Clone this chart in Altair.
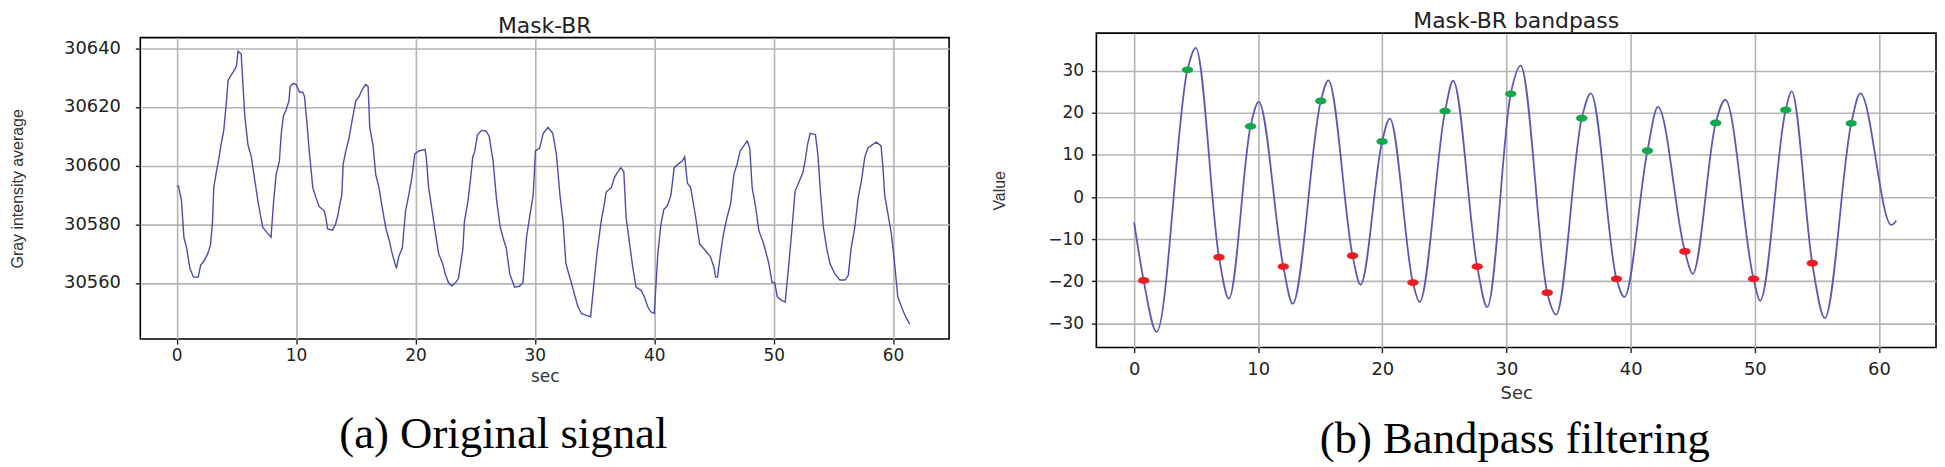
import altair as alt
import pandas as pd

# ---- (a) original signal: time (s) and gray intensity average ----
raw_t = [0, 0.15, 0.4, 0.6, 0.83, 1.1, 1.4, 1.8, 2.0, 2.36, 2.6, 2.83, 3.0, 3.1, 3.33, 3.55, 3.75, 3.94,
         4.17, 4.3, 4.58, 4.86, 5.0, 5.14, 5.4, 5.7, 5.97, 6.25, 6.5, 6.8, 7.0, 7.2, 7.6, 7.9, 8.1, 8.33,
         8.6, 8.75, 8.94, 9.17, 9.4, 9.5, 9.78, 10.0, 10.3, 10.55, 10.7, 10.9, 11.1, 11.4, 11.67, 11.94,
         12.36, 12.5, 12.64, 13.05, 13.3, 13.5, 13.67, 13.83, 13.94, 14.17, 14.44, 14.72, 15.0, 15.28,
         15.55, 15.83, 16.03, 16.17, 16.44, 16.67, 16.94, 17.2, 17.5, 17.8, 18.05, 18.4, 18.6, 18.9,
         19.17, 19.44, 19.7, 19.94, 20.3, 20.8, 20.9, 21.1, 21.44, 21.67, 21.94, 22.28, 22.5, 22.78,
         23.05, 23.4, 23.6, 23.97, 24.1, 24.4, 24.6, 24.8, 24.94, 25.2, 25.55, 25.9, 26.17, 26.5, 26.8,
         27.1, 27.4, 27.6, 27.9, 28.3, 28.7, 29.0, 29.3, 29.6, 29.86, 30.05, 30.4, 30.7, 31.1, 31.5,
         31.8, 32.1, 32.36, 32.6, 33.06, 33.3, 33.6, 33.9, 34.3, 34.67, 34.86, 35.2, 35.55, 35.77,
         35.97, 36.4, 36.67, 36.9, 37.2, 37.45, 37.64, 37.9, 38.2, 38.47, 38.9, 39.17, 39.45, 39.7,
         40.0, 40.3, 40.56, 40.8, 41.1, 41.4, 41.67, 42.0, 42.36, 42.55, 42.78, 43.05, 43.47, 43.8,
         44.3, 44.7, 45.0, 45.14, 45.3, 45.55, 45.8, 46.1, 46.4, 46.67, 46.94, 47.2, 47.5, 47.78,
         48.0, 48.2, 48.5, 48.75, 49.17, 49.6, 49.86, 50.1, 50.3, 50.7, 50.97, 51.25, 51.5, 51.8,
         52.08, 52.45, 52.64, 52.83, 53.06, 53.5, 53.7, 53.94, 54.17, 54.44, 54.72, 55.14, 55.55,
         55.97, 56.25, 56.5, 56.8, 57.08, 57.36, 57.64, 57.9, 58.3, 58.6, 59.0, 59.16, 59.3, 59.58,
         59.86, 60.1, 60.4, 60.7, 61.0, 61.4]
raw_v = [30593, 30593, 30588, 30575.6, 30572, 30565, 30562, 30562, 30566, 30568, 30570, 30573, 30581,
         30592.5, 30598, 30603, 30608, 30612, 30622, 30629, 30631, 30632.7, 30634, 30639, 30638, 30617,
         30607, 30603, 30596, 30588, 30583.5, 30579, 30577, 30575.6, 30587, 30597, 30601.6, 30610.6,
         30617, 30619, 30622, 30627, 30628, 30627.6, 30625, 30625, 30623.6, 30615, 30605, 30592.5,
         30589, 30586, 30584.6, 30582, 30578.4, 30578, 30580, 30583, 30587, 30590, 30600.5, 30605,
         30609.5, 30616, 30622, 30623.6, 30626, 30627.6, 30627, 30613, 30607, 30597, 30592.5, 30586,
         30579, 30574.5, 30570, 30565, 30569, 30572, 30584.6, 30590, 30596, 30604, 30605, 30605.5,
         30603, 30592.5, 30583.5, 30577, 30570, 30566.6, 30563, 30560, 30559, 30560.3, 30561.5,
         30571.6, 30581, 30588, 30595, 30603, 30604.4, 30610.6, 30612, 30611.8, 30610, 30601.6, 30588,
         30579, 30574.5, 30572, 30563, 30558.6, 30558.9, 30560, 30575.6, 30583.5, 30590, 30605, 30606,
         30611, 30613, 30611, 30604, 30590, 30581, 30566.6, 30560, 30556.4, 30552, 30549.6, 30549,
         30548.5, 30556.4, 30570, 30581, 30585.8, 30591, 30592.5, 30596, 30597.6, 30599.3, 30598,
         30582.4, 30574.5, 30565.4, 30558.6, 30557.5, 30555.3, 30552, 30550.2, 30549.6, 30570, 30580,
         30585, 30586.3, 30590, 30599.3, 30600.5, 30601.6, 30603, 30594, 30592.5, 30582.4, 30573.3,
         30571, 30569, 30565.4, 30562, 30562, 30570, 30576.7, 30582.4, 30587, 30597, 30600.5, 30605,
         30606.7, 30608.4, 30606, 30592.5, 30585.8, 30578, 30573.3, 30566.6, 30560.3, 30560, 30555.3,
         30554, 30553.5, 30565.4, 30576.7, 30591.4, 30594, 30597.6, 30601.6, 30607, 30611, 30610.6,
         30604, 30590, 30579, 30572, 30566.6, 30563, 30561, 30561, 30562.6, 30572, 30579, 30589,
         30595, 30603, 30606, 30607.2, 30608, 30606.7, 30599.3, 30590, 30583.5, 30576.7, 30568,
         30555.3, 30552, 30549, 30546]

# ---- (b) bandpass signal: extrema and end points ----
bp_t = [0, 1.82, 4.97, 7.64, 10.04, 12.77, 15.65, 18.24, 20.6, 23.0, 25.7, 28.45, 31.14, 34.0,
        36.8, 39.5, 42.2, 45.0, 47.63, 50.43, 52.97, 55.64, 58.5, 61.0, 61.4]
bp_v = [-6, -32, 35.4, -24.1, 22.6, -25.3, 27.7, -20.8, 18.6, -24.9, 27.6, -26.1, 31.2, -27.9,
        24.6, -23.7, 21.4, -18.2, 23.1, -24.6, 25.1, -28.7, 24.6, -6.6, -5.6]

# green markers
green_t = [4.3, 9.38, 15.04, 19.98, 25.05, 30.34, 36.06, 41.35, 46.85, 52.49, 57.77]
green_v = [30.2, 16.8, 22.8, 13.2, 20.4, 24.5, 18.7, 11.0, 17.6, 20.7, 17.5]
# red markers
red_t = [0.77, 6.84, 12.02, 17.6, 22.46, 27.64, 33.28, 38.86, 44.37, 49.9, 54.63]
red_v = [-19.8, -14.25, -16.5, -13.9, -20.3, -16.5, -22.7, -19.4, -12.9, -19.4, -15.7]

raw_df = pd.DataFrame({"t": raw_t, "v": raw_v})
line_df = pd.concat([
    pd.DataFrame({"t": bp_t, "v": bp_v}),
    pd.DataFrame({"t": green_t, "v": green_v}),
    pd.DataFrame({"t": red_t, "v": red_v}),
]).sort_values("t").reset_index(drop=True)
green_df = pd.DataFrame({"t": green_t, "v": green_v})
red_df = pd.DataFrame({"t": red_t, "v": red_v})

ELLIPSE = "M -1 0 A 1 0.6 0 1 0 1 0 A 1 0.6 0 1 0 -1 0 Z"
LABEL_FONT = "DejaVu Sans"
NARROW = "Liberation Sans"

def axis(title, values, title_font, title_size, label_size, label_pad, title_pad):
    return alt.Axis(
        title=title, values=values, format="d", grid=True, domain=False,
        labelFont=LABEL_FONT, labelFontSize=label_size, labelColor="#222222",
        labelPadding=label_pad, titleFont=title_font, titleFontSize=title_size,
        titleFontWeight="normal", titleColor="#333333", titlePadding=title_pad,
        tickColor="#222222", tickSize=5, tickWidth=1.4,
        gridColor="#b4b4b4", gridWidth=1.6,
    )

# ---- left panel ----
lx = alt.X("t:Q", scale=alt.Scale(domain=[-3.05, 64.7], nice=False, zero=False),
           axis=axis("sec", [0, 10, 20, 30, 40, 50, 60], LABEL_FONT, 17, 17, 4, 5))
ly = alt.Y("v:Q", scale=alt.Scale(domain=[30540.9, 30643.6], nice=False, zero=False),
           axis=axis("Gray intensity average", [30560, 30580, 30600, 30620, 30640], NARROW, 16, 18, 15, 38))

left = alt.Chart(raw_df).mark_line(color="#4d4daa", strokeWidth=1.4).encode(x=lx, y=ly).properties(
    width=813, height=303,
    title=alt.TitleParams(text="Mask-BR", font=LABEL_FONT, fontSize=22,
                          fontWeight="normal", color="#222222", offset=0),
)

# ---- right panel ----
rx = alt.X("t:Q", scale=alt.Scale(domain=[-3.04, 64.6], nice=False, zero=False),
           axis=axis("Sec", [0, 10, 20, 30, 40, 50, 60], LABEL_FONT, 18, 18, 8, 6))
ry = alt.Y("v:Q", scale=alt.Scale(domain=[-35.7, 38.9], nice=False, zero=False),
           axis=axis("Value", [-30, -20, -10, 0, 10, 20, 30], NARROW, 16, 17, 8, 40))

bp_line = alt.Chart(line_df).mark_line(color="#5a5ab2", strokeWidth=1.8, interpolate="monotone").encode(x=rx, y=ry)
green_pts = alt.Chart(green_df).mark_point(shape=ELLIPSE, size=130, filled=True, opacity=1,
                                           color="#12a84c").encode(x=rx, y=ry)
red_pts = alt.Chart(red_df).mark_point(shape=ELLIPSE, size=130, filled=True, opacity=1,
                                       color="#ee1c25").encode(x=rx, y=ry)

right = alt.layer(bp_line, green_pts, red_pts).properties(
    width=844, height=316,
    title=alt.TitleParams(text="Mask-BR bandpass", font=LABEL_FONT, fontSize=22, fontWeight="normal",
                          color="#222222", offset=0),
)

CAP = dict(orient="bottom", anchor="middle", font="Liberation Serif", fontSize=45,
           fontWeight="normal", color="black")
left_w = alt.vconcat(left).properties(title=alt.TitleParams(text="(a) Original signal", offset=27, dx=24, **CAP))
right_w = alt.vconcat(right).properties(title=alt.TitleParams(text="(b) Bandpass filtering", offset=14, dx=51, **CAP))

chart = alt.hconcat(left_w, right_w, spacing=41, center=True).properties(
    padding=0, background="white"
).configure_view(stroke="black", strokeWidth=1.6)

chart.save("out.html", embed_options={"renderer": "svg", "actions": False})
